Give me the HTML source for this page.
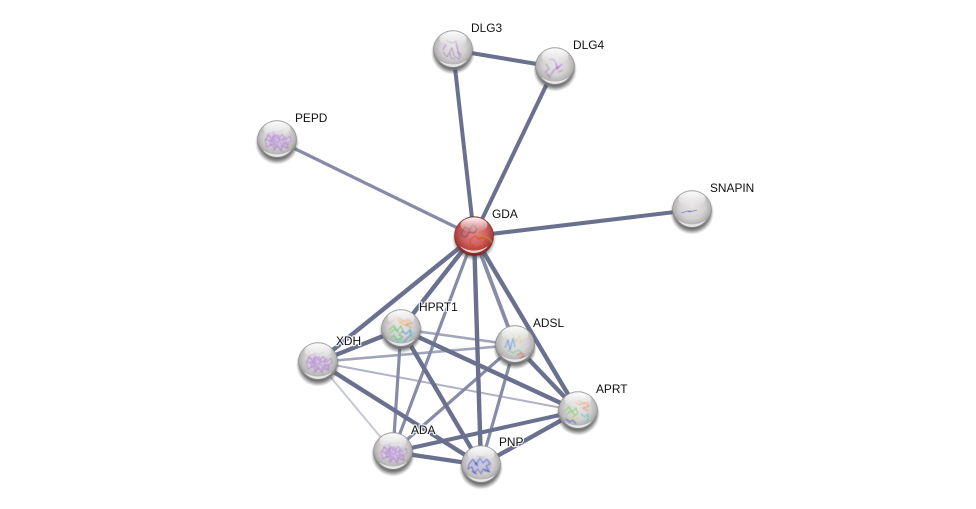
<!DOCTYPE html>
<html>
<head>
<meta charset="utf-8">
<style>
html,body{margin:0;padding:0;background:#fff;width:976px;height:509px;overflow:hidden}
svg{display:block}
text{font-family:"Liberation Sans",sans-serif;font-size:11.9px;fill:#111;paint-order:stroke;stroke:#fff;stroke-opacity:.85;stroke-width:2.5px;stroke-linejoin:round}
.s{fill:none;stroke-width:.8}
</style>
</head>
<body>
<svg width="976" height="509" viewBox="0 0 976 509" xmlns="http://www.w3.org/2000/svg">
<defs>
<radialGradient id="g" cx="50%" cy="40%" r="58%">
<stop offset="0" stop-color="#e6e4e4"/>
<stop offset=".55" stop-color="#d4d2d2"/>
<stop offset=".82" stop-color="#b4b2b2"/>
<stop offset="1" stop-color="#6e6e6e"/>
</radialGradient>
<radialGradient id="r" cx="50%" cy="42%" r="58%">
<stop offset="0" stop-color="#e58a8a"/>
<stop offset=".55" stop-color="#cd6060"/>
<stop offset=".85" stop-color="#a93a3a"/>
<stop offset="1" stop-color="#6e2222"/>
</radialGradient>
<linearGradient id="h" x1="0" y1="0" x2="0" y2="1">
<stop offset="0" stop-color="#fff" stop-opacity=".95"/>
<stop offset="1" stop-color="#fff" stop-opacity="0"/>
</linearGradient>
<radialGradient id="sh" cx="50%" cy="50%" r="50%">
<stop offset=".78" stop-color="#444" stop-opacity=".7"/>
<stop offset="1" stop-color="#555" stop-opacity="0"/>
</radialGradient>
<filter id="b" x="-20%" y="-20%" width="140%" height="140%"><feGaussianBlur stdDeviation=".4"/></filter>
<g id="ball">
<circle cx="0" cy="2.5" r="22" fill="url(#sh)"/>
<circle r="19.5" fill="url(#g)" stroke="#8a8a8a" stroke-width=".6"/>
</g>
<g id="gloss">
<ellipse cx="0" cy="-11" rx="13.5" ry="7.5" fill="url(#h)"/>
<path d="M-14 10 A17.5 17.5 0 0 0 14 10 A24 24 0 0 1 -14 10Z" fill="#fff" opacity=".75"/>
</g>
<g id="pm0">
<path class="s" stroke="#a673cf" d="M-12 0l4-5 3 6 3-7 4 5 3-5 4 6 4-4 1 5-5 2 2 5-6-3-1 5-4-5-3 5-2-6-5 3z"/>
<path class="s" stroke="#b583dc" stroke-width="1.2" d="M-9 1l6 2 3-6 5 4 5-5M-5-4l3 9 4-5 3 7 4-5"/>
</g>
<g id="pm" filter="url(#b)" opacity=".72">
<ellipse rx="10" ry="7" fill="#b68ad6" opacity=".22"/>
<use href="#pm0"/>
<use href="#pm0" transform="rotate(35) scale(.9)"/>
<path class="s" stroke="#aaa" d="M-8 7l5 4 6-1 4 3M-4-9l6 1 5-2"/>
</g>
<g id="mix" filter="url(#b)">
<path class="s" stroke="#e89b5c" stroke-width="2.2" d="M-4-10l5 3 6-3 4 4-6 2 6 3M-2-7l6 3 4-2M-2-11l7 4 5-2"/>
<path class="s" stroke="#62c25e" stroke-width="2.6" d="M-12 1l5-4 3 5 4-5 2 5-4 4 4 2-6 3-3-5-3 3M-11 4l5-4 4 4"/>
<path class="s" stroke="#4d8ed6" stroke-width="1.8" d="M1 2l4 3 4-4 1 5-4 3-3 4"/>
<path class="s" stroke="#66cdd2" stroke-width="1.2" d="M-7 9l4 4 3-3 4 4M8-1l4 5-2 6"/>
<path class="s" stroke="#e2a9a9" d="M-13-6l5-2 2-4 6 1"/>
</g>
</defs>

<g stroke-linecap="butt" fill="none">
<line x1="318" y1="362" x2="393" y2="452" stroke="#c6c8d3" stroke-width="2"/>
<line x1="318" y1="362" x2="578" y2="411" stroke="#b0b3c5" stroke-width="2"/>
<g stroke="#a0a5bb">
<line x1="318" y1="362" x2="515" y2="345" stroke-width="2.6"/>
<line x1="401" y1="329" x2="515" y2="345" stroke-width="2.6"/>
</g>
<g stroke="#868ca8">
<line x1="401" y1="329" x2="393" y2="452" stroke-width="3.2"/>
<line x1="515" y1="345" x2="393" y2="452" stroke-width="3.2"/>
<line x1="515" y1="345" x2="481" y2="465" stroke-width="3.2"/>
<line x1="474" y1="236" x2="277" y2="140" stroke-width="3.2"/>
<line x1="474" y1="236" x2="393" y2="452" stroke-width="3.2"/>
<line x1="474" y1="236" x2="515" y2="345" stroke-width="3.8"/>
</g>
<g stroke="#6a718f">
<line x1="474" y1="236" x2="453" y2="50" stroke-width="4"/>
<line x1="474" y1="236" x2="555" y2="67" stroke-width="4"/>
<line x1="453" y1="50" x2="555" y2="67" stroke-width="4"/>
<line x1="474" y1="236" x2="692" y2="210" stroke-width="4"/>
<line x1="474" y1="236" x2="318" y2="362" stroke-width="4.4"/>
<line x1="474" y1="236" x2="401" y2="329" stroke-width="4.4"/>
<line x1="474" y1="236" x2="481" y2="465" stroke-width="4.4"/>
<line x1="474" y1="236" x2="578" y2="411" stroke-width="4.4"/>
<line x1="401" y1="329" x2="318" y2="362" stroke-width="4.4"/>
<line x1="401" y1="329" x2="578" y2="411" stroke-width="4.4"/>
<line x1="401" y1="329" x2="481" y2="465" stroke-width="4.4"/>
<line x1="318" y1="362" x2="481" y2="465" stroke-width="4.4"/>
<line x1="515" y1="345" x2="578" y2="411" stroke-width="4.4"/>
<line x1="578" y1="411" x2="393" y2="452" stroke-width="4"/>
<line x1="578" y1="411" x2="481" y2="465" stroke-width="4.4"/>
<line x1="393" y1="452" x2="481" y2="465" stroke-width="4.4"/>
</g>
</g>

<!-- DLG3 -->
<g transform="translate(453,50)"><use href="#ball"/>
<g filter="url(#b)"><path class="s" stroke="#b37bd8" stroke-width="2.6" d="M-7-6l-3 6M3-8l3 14"/><path class="s" stroke="#a890bb" d="M-10 2l4 5 5-9 2 8 5 3 2-5-4-2M-6-9l5 2 5-2M-3 3l1 5 4 1"/></g>
<use href="#gloss"/></g>
<!-- DLG4 -->
<g transform="translate(555,67)"><use href="#ball"/>
<g filter="url(#b)"><path class="s" stroke="#b060e0" stroke-width="2.6" d="M-3 5l7-6M1-4l1 6 5-5"/><path class="s" stroke="#a890bb" d="M-9-3l3 5-4 3 5 4 3-4M-6-7l4-1 3 4M3 5l5-2M-8 8l4 3"/></g>
<use href="#gloss"/></g>
<!-- PEPD -->
<g transform="translate(277,140)"><use href="#ball"/><use href="#pm"/><use href="#gloss"/></g>
<!-- SNAPIN -->
<g transform="translate(692,210)"><use href="#ball"/>
<path class="s" stroke="#7f86c9" stroke-width="1" d="M-11 3l7-2 1 1 8-2M-5 1l4 0"/>
<use href="#gloss"/></g>
<!-- HPRT1 -->
<g transform="translate(401,329)"><use href="#ball"/><use href="#mix"/><use href="#gloss"/></g>
<!-- ADSL -->
<g transform="translate(515,345)"><use href="#ball"/>
<g filter="url(#b)"><path class="s" stroke="#5f96dc" stroke-width="2.2" d="M-10 3l3-8 2 10 3-12 2 9"/><path class="s" stroke="#dcc97a" stroke-width="1.8" d="M-2-11l3 8 3-7 2 8"/><path class="s" stroke="#72cf8a" stroke-width="2.2" d="M-8 5l6 3 5-3 4 3"/><path class="s" stroke="#d85a5a" stroke-width="1.4" d="M2 10l4-2 3 3-4 2"/></g>
<use href="#gloss"/></g>
<!-- XDH -->
<g transform="translate(318,362)"><use href="#ball"/><use href="#pm"/><use href="#gloss"/></g>
<!-- APRT -->
<g transform="translate(578,411)"><use href="#ball"/>
<g filter="url(#b)"><path class="s" stroke="#ea9a62" stroke-width="2.4" d="M-3-9l5 3 5-3 4 4-6 2 5 3M0-11l6 4 5-2"/><path class="s" stroke="#7ccc5e" stroke-width="2.6" d="M-14 1l5-5 3 5 4-4 2 5-5 4M-12 4l5-4 4 4"/><path class="s" stroke="#4fc7c7" stroke-width="2" d="M3 3l4 3 3-3 0 6-3 3"/><path class="s" stroke="#4a5ed0" stroke-width="1.4" d="M-12 8l4 3 3-2 3 4"/><path class="s" stroke="#d9d35e" stroke-width="1.6" d="M-8 6l5 3 4-3"/></g>
<use href="#gloss"/></g>
<!-- ADA -->
<g transform="translate(393,452)"><use href="#ball"/><use href="#pm"/><use href="#gloss"/></g>
<!-- PNP -->
<g transform="translate(481,465)"><use href="#ball"/>
<g filter="url(#b)"><ellipse rx="11" ry="8" fill="#8f94d8" opacity=".3"/><path class="s" stroke="#5c62c8" stroke-width="1.2" d="M-12-1l4-5 3 6 4-7 3 5 4-4 3 5-4 2 3 5-6-2-2 5-3-5-4 4-2-6-4 2z"/><path class="s" stroke="#3d44c0" stroke-width="1.8" d="M-9 6l5 3M3 5l6 2M-6-3l3 4"/><path class="s" stroke="#aaa" d="M-5-9l6 1 5-1M-3 4l5 6"/></g>
<use href="#gloss"/></g>
<!-- GDA -->
<g transform="translate(474,236)">
<circle cx="0" cy="2.5" r="22" fill="url(#sh)"/>
<circle r="19.5" fill="url(#r)" stroke="#7c2d2d" stroke-width=".6"/>
<g filter="url(#b)"><path class="s" stroke="#5f5068" stroke-width="2" d="M-13-3l4-6 5 3 3-6 4 5-3 4-5-1-3 5-4-1z"/><path class="s" stroke="#d9480f" stroke-width="2.6" d="M-4 4l5-4 4 3 4-2 4 3-4 3 1 5-5-2-3 4-3-5-3 2z"/><path class="s" stroke="#c9a127" stroke-width="1.2" d="M3-3l6 3 6 2 3 5"/></g>
<use href="#gloss"/></g>

<text x="471" y="32">DLG3</text>
<text x="573" y="49">DLG4</text>
<text x="295" y="122">PEPD</text>
<text x="710" y="192">SNAPIN</text>
<text x="492" y="218">GDA</text>
<text x="419" y="311">HPRT1</text>
<text x="533" y="327">ADSL</text>
<text x="336" y="345">XDH</text>
<text x="596" y="393">APRT</text>
<text x="411" y="434">ADA</text>
<text x="499" y="446">PNP</text>
</svg>
</body>
</html>
